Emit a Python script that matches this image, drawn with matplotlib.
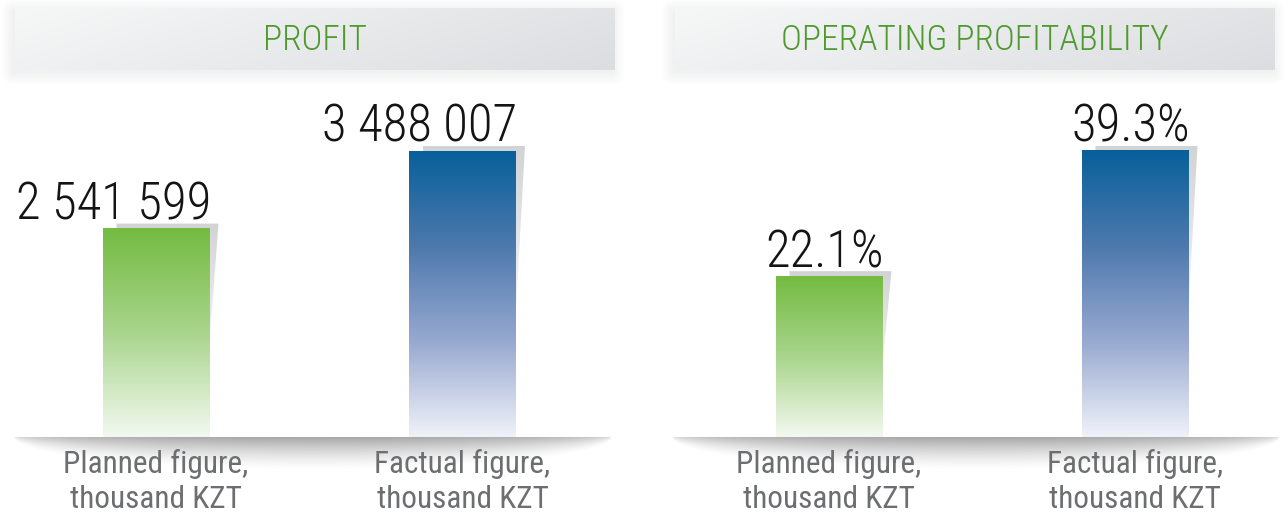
import numpy as np
import matplotlib.pyplot as plt
from matplotlib import font_manager
from matplotlib.colors import LinearSegmentedColormap, to_rgb
from matplotlib.patches import Polygon, FancyBboxPatch

# data
titles = ['PROFIT', 'OPERATING PROFITABILITY']
categories = ['Planned figure,\nthousand KZT', 'Factual figure,\nthousand KZT']
profit = [2541599, 3488007]
profit_labels = ['2 541 599', '3 488 007']
profitability = [22.1, 39.3]
profitability_labels = ['22.1%', '39.3%']

panels = [(titles[0], profit, profit_labels), (titles[1], profitability, profitability_labels)]

# fonts: prefer a narrow face for numbers and titles
names = {f.name for f in font_manager.fontManager.ttflist}
narrow = [n for n in ('Roboto Condensed', 'Liberation Sans Narrow') if n in names]
if narrow:
    num_font, num_size, title_size, label_size = narrow[0], 36.5, 25.5, 22.5
else:
    num_font, num_size, title_size, label_size = 'Roboto', 31, 21, 20
label_font = num_font

W, H = 1285, 515
fig = plt.figure(figsize=(W / 100, H / 100), dpi=100)
bg = fig.add_axes([0, 0, 1, 1])
bg.set_xlim(0, W)
bg.set_ylim(H, 0)
bg.axis('off')

green = LinearSegmentedColormap.from_list('g', ['#74bb41', '#a9d58c', '#f3f9f0'])
blue = LinearSegmentedColormap.from_list('b', ['#07609a', '#4d79ad', '#98a9d0', '#f0f2f9'])
shade = LinearSegmentedColormap.from_list('s', ['#d2d3d5', '#e2e3e5', '#f4f4f4'])
bar_cmaps = [green, blue]

# pixel layout: header span, bar centres, baseline shadow span
layout = [
    dict(header=(15, 615), centers=(156, 462.5), base=(14, 612)),
    dict(header=(675, 1275), centers=(829, 1135), base=(672, 1280)),
]
base_y = 437
top_px = 80
max_bar_px = 286
bar_px = 107


def header(x0, x1, y0, y1, text):
    # soft shadow
    for k in range(14):
        bg.add_patch(FancyBboxPatch((x0 - 2, y0 + 3), x1 - x0, y1 - y0,
                                    boxstyle='round,pad=%f,rounding_size=%f' % (k * 0.9, k * 0.9),
                                    fc='black', ec='none', alpha=0.005, zorder=1))
    u = np.linspace(0, 1, 300)[None, :]
    v = np.linspace(0, 1, 40)[:, None]
    t = np.clip(0.8 * u + 0.25 * v - 0.05, 0, 1)
    c0, c1 = np.array(to_rgb('#f5f6f6')), np.array(to_rgb('#dcdde0'))
    img = c0[None, None, :] * (1 - t[..., None]) + c1[None, None, :] * t[..., None]
    bg.imshow(img, extent=(x0, x1, y1, y0), aspect='auto', zorder=2, interpolation='bilinear')
    bg.text((x0 + x1) / 2, (y0 + y1) / 2 + 1, text, ha='center', va='center',
            color='#4f9a2f', fontsize=title_size, fontweight='light',
            family=[num_font, 'DejaVu Sans'], zorder=3)


def base_shadow(x0, x1, y):
    u = np.linspace(-1, 1, 600)[None, :]
    v = np.linspace(0, 1, 60)[:, None]
    depth = np.sqrt(np.clip(1 - u ** 2, 0, 1))
    a = np.clip(1 - v / (depth + 1e-6), 0, 1) ** 1.5 * depth ** 0.5 * 0.6
    img = np.zeros((60, 600, 4))
    img[..., :3] = 0.43
    img[..., 3] = a
    bg.imshow(img, extent=(x0, x1, y + 34, y), aspect='auto', zorder=1, interpolation='bilinear')


for p, (title, values, labels) in enumerate(panels):
    lay = layout[p]
    a0, a1 = lay['header']
    header(a0, a1, 8, 70, title)
    base_shadow(lay['base'][0], lay['base'][1], base_y)

    ax = fig.add_axes([a0 / W, (H - base_y) / H, (a1 - a0) / W, (base_y - top_px) / H])
    ax.patch.set_alpha(0)
    ax.axis('off')
    c0, c1 = lay['centers']
    s = c1 - c0
    vmax = max(values)
    ypx = max_bar_px / vmax
    xlim = ((a0 - c0) / s, (a1 - c0) / s)
    ylim = (0, (base_y - top_px) / ypx)
    bw = bar_px / s
    grad = np.linspace(0, 1, 256)[:, None]

    for i, (v, lab) in enumerate(zip(values, labels)):
        L, R = i - bw / 2, i + bw / 2
        # offset shadow behind the bar
        sh = Polygon([(L + 14 / s, v + 5 / ypx), (R + 9 / s, v + 5 / ypx),
                      (R, v * 0.45), (L + 14 / s, v * 0.45)], closed=True,
                     fc='none', ec='none', transform=ax.transData)
        ax.add_patch(sh)
        im = ax.imshow(grad, extent=(L, R + 9 / s, v * 0.45, v + 5 / ypx), cmap=shade,
                       aspect='auto', zorder=1)
        im.set_clip_path(sh)
        ax.imshow(grad, extent=(L, R, 0, v), cmap=bar_cmaps[i], aspect='auto',
                  zorder=2, interpolation='bilinear')
        ax.annotate(lab, xy=(R, v), xytext=(1, 6.5), textcoords='offset points',
                    ha='right', va='baseline', fontsize=num_size, color='#141414',
                    fontweight='light', family=[num_font, 'DejaVu Sans'])
        ax.annotate(categories[i], xy=(i, 0), xytext=(0, -8.5), textcoords='offset points',
                    ha='center', va='top', fontsize=label_size, color='#6d6e71',
                    family=[label_font, 'DejaVu Sans'], linespacing=1.25,
                    annotation_clip=False)
    ax.set_xlim(*xlim)
    ax.set_ylim(*ylim)

fig.savefig('out.png', dpi=100)
